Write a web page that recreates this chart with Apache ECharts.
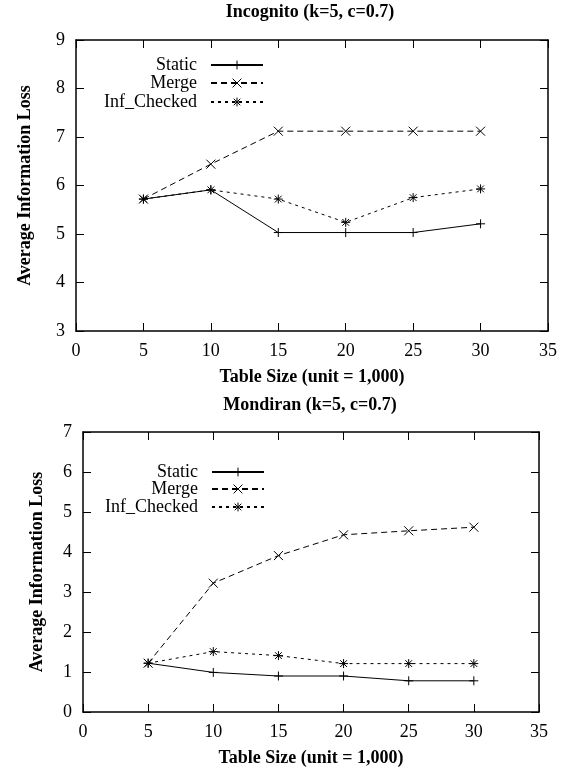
<!DOCTYPE html>
<html>
<head>
<meta charset="utf-8">
<script src="https://cdn.jsdelivr.net/npm/echarts@6/dist/echarts.min.js"></script>
<style>html,body{margin:0;padding:0;background:#fff}#c{width:569px;height:771px}</style>
</head>
<body>
<div id="c"></div>
<script>
const tableSizes = [5, 10, 15, 20, 25, 30];
const seriesNames = ['Static', 'Merge', 'Inf_Checked'];
const xTicks = [0, 5, 10, 15, 20, 25, 30, 35];

// Incognito (k=5, c=0.7)
const incStatic = [5.72, 5.91, 5.03, 5.03, 5.03, 5.21];
const incMerge = [5.72, 6.44, 7.12, 7.12, 7.12, 7.12];
const incInf = [5.72, 5.91, 5.72, 5.24, 5.75, 5.93];

// Mondiran (k=5, c=0.7)
const monStatic = [1.22, 0.99, 0.90, 0.90, 0.78, 0.78];
const monMerge = [1.22, 3.22, 3.91, 4.43, 4.53, 4.62];
const monInf = [1.22, 1.51, 1.41, 1.21, 1.21, 1.21];

const titles = ['Incognito (k=5, c=0.7)', 'Mondiran (k=5, c=0.7)'];
const xName = 'Table Size (unit = 1,000)';
const yName = 'Average Information Loss';

const FONT = 'Liberation Serif';
const symPlus = 'path://M0,-1L0,1M-1,0L1,0';
const symCross = 'path://M-1,-1L1,1M-1,1L1,-1';
const symStar = 'path://M0,-1L0,1M-1,0L1,0M-0.75,-0.75L0.75,0.75M-0.75,0.75L0.75,-0.75';
const symbols = [symPlus, symCross, symStar];
const dashes = ['solid', [6, 4], [3, 4]];

function pairs(vals) { return tableSizes.map((x, i) => [x, vals[i]]); }

const grids = [
  { left: 76, right: 21, top: 40, bottom: 440 },
  { left: 83, right: 30, top: 432, bottom: 59 }
];
const yRanges = [[3, 9], [0, 7]];
const yGaps = [42, 37];
const data = [[incStatic, incMerge, incInf], [monStatic, monMerge, monInf]];
const legendRight = [305, 304];
const legendRows = [[65, 83, 102], [472, 489, 507]];
const titleTops = [3, 396];

function axLine() { return { show: true, onZero: false, lineStyle: { color: '#000', width: 1.5 } }; }
function axTick() { return { show: true, inside: true, length: 8, lineStyle: { color: '#000', width: 1 } }; }
function lbl() { return { show: true, inside: false, margin: 11, color: '#000', fontFamily: FONT, fontSize: 18 }; }

const option = {
  animation: false,
  backgroundColor: '#fff',
  title: [], grid: grids, xAxis: [], yAxis: [], series: [], legend: []
};

for (let g = 0; g < 2; g++) {
  option.title.push({
    text: titles[g], left: 310, top: titleTops[g], textAlign: 'center', padding: 0,
    textStyle: { fontFamily: FONT, fontSize: 18, fontWeight: 'bold', color: '#000' }
  });
  option.xAxis.push({
    type: 'value', gridIndex: g, min: 0, max: 35, interval: 5, position: 'bottom',
    name: xName, nameLocation: 'middle', nameGap: 37,
    nameTextStyle: { fontFamily: FONT, fontSize: 18, fontWeight: 'bold', color: '#000' },
    axisLine: axLine(), axisTick: axTick(), splitLine: { show: false },
    axisLabel: lbl()
  });
  option.xAxis.push({
    type: 'value', gridIndex: g, min: 0, max: 35, interval: 5, position: 'top',
    axisLine: axLine(), axisTick: axTick(), splitLine: { show: false }, axisLabel: { show: false }
  });
  option.yAxis.push({
    type: 'value', gridIndex: g, min: yRanges[g][0], max: yRanges[g][1], interval: 1, position: 'left',
    name: yName, nameLocation: 'middle', nameGap: yGaps[g],
    nameTextStyle: { fontFamily: FONT, fontSize: 18, fontWeight: 'bold', color: '#000' },
    axisLine: axLine(), axisTick: axTick(), splitLine: { show: false },
    axisLabel: lbl()
  });
  option.yAxis.push({
    type: 'value', gridIndex: g, min: yRanges[g][0], max: yRanges[g][1], interval: 1, position: 'right',
    axisLine: axLine(), axisTick: axTick(), splitLine: { show: false }, axisLabel: { show: false }
  });
  for (let s = 0; s < 3; s++) {
    option.series.push({
      type: 'line', name: seriesNames[s], xAxisIndex: g * 2, yAxisIndex: g * 2,
      data: pairs(data[g][s]),
      symbol: symbols[s], symbolSize: 9, showSymbol: true,
      lineStyle: { color: '#000', width: 1, type: dashes[s] },
      itemStyle: { color: '#000', borderColor: '#000', borderWidth: 1 },
      z: 3 + s
    });
    option.legend.push({
      data: [seriesNames[s]], selectedMode: false, orient: 'horizontal', align: 'right',
      right: legendRight[g], top: legendRows[g][s] - 9, padding: 0,
      itemWidth: 52, itemHeight: 11,
      itemStyle: { borderColor: '#000', borderWidth: 1 },
      textStyle: { fontFamily: FONT, fontSize: 18, color: '#000', padding: [0, 9, 0, 0] }
    });
  }
}

const chart = echarts.init(document.getElementById('c'), null, { renderer: 'canvas' });
chart.setOption(option);
</script>
</body>
</html>
